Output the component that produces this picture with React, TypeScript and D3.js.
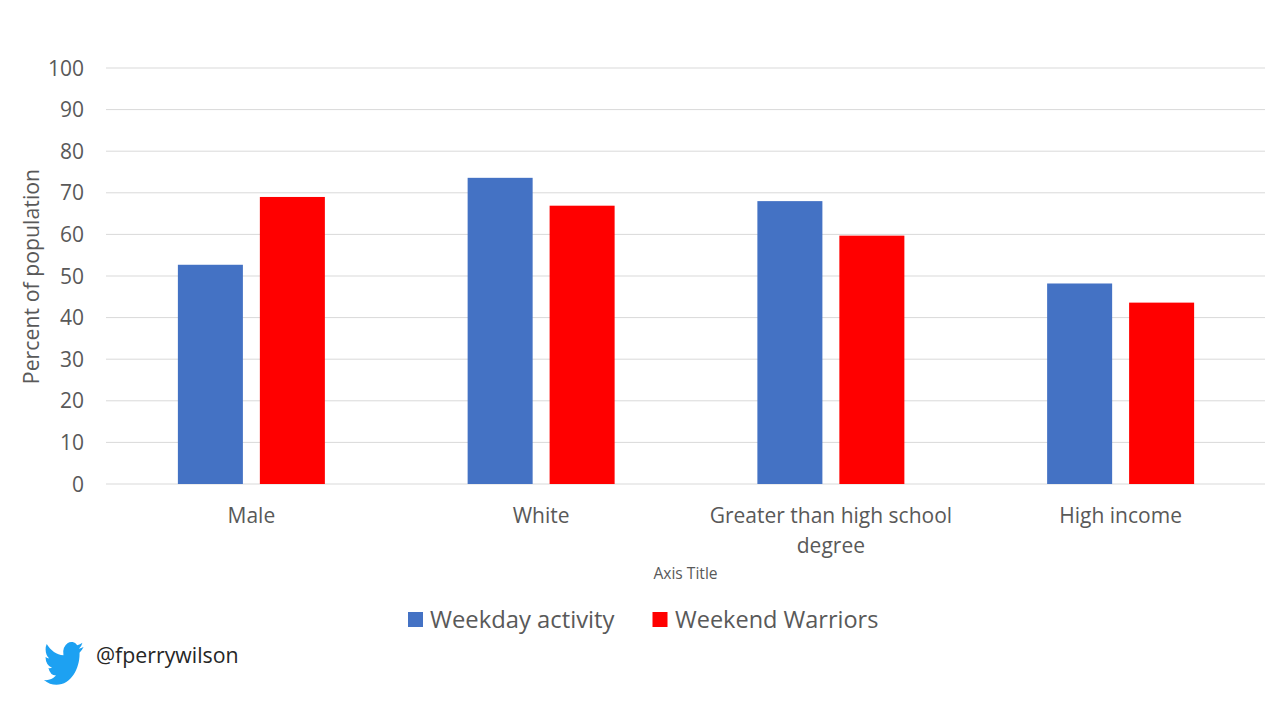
import * as d3 from 'd3'
import React from 'react';

const categories = ['Male', 'White', 'Greater than high school degree', 'High income'];
const weekday = [52.7, 73.6, 68, 48.2];
const weekend = [69, 66.9, 59.7, 43.6];
const seriesNames = ['Weekday activity', 'Weekend Warriors'];
const seriesColors = ['#4472c4', '#ff0000'];
const yTicks = [0, 10, 20, 30, 40, 50, 60, 70, 80, 90, 100];

const font = '"Open Sans", "Noto Sans", sans-serif';
const textColor = '#595959';

const birdPath = 'M23.953 4.57a10 10 0 01-2.825.775 4.958 4.958 0 002.163-2.723c-.951.555-2.005.959-3.127 1.184a4.92 4.92 0 00-8.384 4.482C7.69 8.095 4.067 6.13 1.64 3.162a4.822 4.822 0 00-.666 2.475c0 1.71.87 3.213 2.188 4.096a4.904 4.904 0 01-2.228-.616v.06a4.923 4.923 0 003.946 4.827 4.996 4.996 0 01-2.212.085 4.936 4.936 0 004.604 3.417 9.867 9.867 0 01-6.102 2.105c-.39 0-.779-.023-1.17-.067a13.995 13.995 0 007.557 2.209c9.053 0 13.998-7.496 13.998-13.985 0-.21 0-.42-.015-.63A9.935 9.935 0 0024 4.59z';

const App = () => {
    const y = d3.scaleLinear().domain([0, 100]).range([484, 68]);

    // Group scale, then bars inside each group
    const x0 = d3.scaleBand()
        .domain(categories)
        .range([106.5, 1265.5])
        .paddingInner(0.4927)
        .paddingOuter(0.24635);
    const x1 = d3.scaleBand()
        .domain(seriesNames)
        .range([0, x0.bandwidth()])
        .paddingInner(0.207);

    const series = [weekday, weekend];

    return (
        <svg width={1280} height={720} style={{ position: 'absolute', left: 0, top: 0, background: '#fff', fontFamily: font }}>
            {/* Gridlines and y ticks */}
            {yTicks.map((t) => (
                <g key={t}>
                    <line x1={106} x2={1265} y1={y(t)} y2={y(t)} stroke="#d9d9d9" strokeWidth={1} />
                    <text x={84} y={y(t) + 7.5} textAnchor="end" fontSize={21} fill={textColor}>{t}</text>
                </g>
            ))}

            {/* Bars */}
            {series.map((values, s) => values.map((v, i) => (
                <rect
                    key={`${s}-${i}`}
                    x={x0(categories[i]) + x1(seriesNames[s])}
                    y={y(v)}
                    width={x1.bandwidth()}
                    height={y(0) - y(v)}
                    fill={seriesColors[s]}
                />
            )))}

            {/* Category labels, the long one wraps */}
            {categories.map((c) => {
                const cx = x0(c) + x0.bandwidth() / 2;
                const lines = c === 'Greater than high school degree'
                    ? ['Greater than high school', 'degree']
                    : [c];
                return lines.map((l, i) => (
                    <text key={l} x={cx} y={522.5 + i * 30} textAnchor="middle" fontSize={21} fill={textColor}>{l}</text>
                ));
            })}

            <text transform="translate(39,276.5) rotate(-90)" textAnchor="middle" fontSize={21.3} fill={textColor}>Percent of population</text>
            <text x={685.5} y={579} textAnchor="middle" fontSize={15.6} fill={textColor}>Axis Title</text>

            {/* Legend */}
            <rect x={408} y={612} width={15} height={15} fill={seriesColors[0]} />
            <text x={430} y={628} fontSize={23.8} fill={textColor}>{seriesNames[0]}</text>
            <rect x={652.5} y={612} width={15} height={15} fill={seriesColors[1]} />
            <text x={675} y={628} fontSize={23.5} fill={textColor}>{seriesNames[1]}</text>

            {/* Twitter handle */}
            <path d={birdPath} transform="translate(44,637) scale(1.65,2.2)" fill="#1da1f2" />
            <text x={96} y={662.5} fontSize={21.3} fill="#262626">@fperrywilson</text>
        </svg>
    );
}

export default App;
